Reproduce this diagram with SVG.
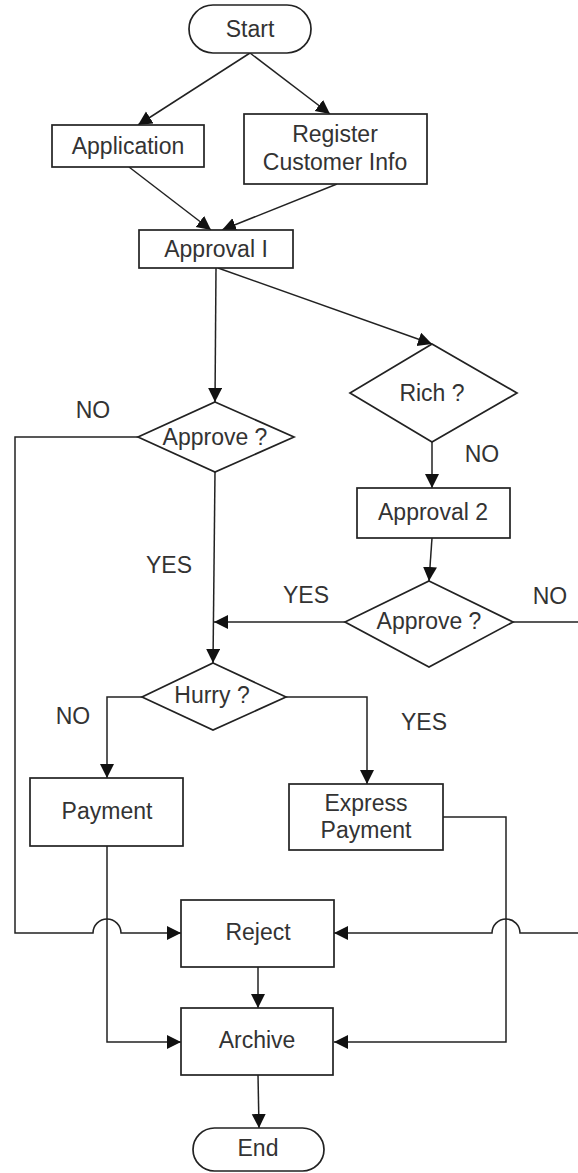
<svg xmlns="http://www.w3.org/2000/svg" width="578" height="1173" viewBox="0 0 578 1173">
<style>
.box{fill:#fff;stroke:#222;stroke-width:1.7}
.ln{fill:none;stroke:#222;stroke-width:1.5}
.arr{marker-end:url(#ah)}
text{font-family:"Liberation Sans",Arial,sans-serif;font-size:23px;fill:#333;text-anchor:middle}
</style>
<defs>
<marker id="ah" markerUnits="userSpaceOnUse" markerWidth="16" markerHeight="16" refX="14" refY="7" orient="auto">
<path d="M0,0 L14,7 L0,14 z" fill="#111"/>
</marker>
</defs>
<rect width="578" height="1173" fill="#fff"/>
<g id="connectors">
<path class="ln arr" d="M250,53 L138,125"/>
<path class="ln arr" d="M250,53 L330,114"/>
<path class="ln arr" d="M129,167 L211,230"/>
<path class="ln arr" d="M337,184 L222,230"/>
<path class="ln arr" d="M216,268 L215,402"/>
<path class="ln arr" d="M218,268 L432,344"/>
<path class="ln arr" d="M432,442 L432,488"/>
<path class="ln arr" d="M432,538 L429,581"/>
<path class="ln arr" d="M345,622 L214,622"/>
<path class="ln arr" d="M215,472 L213,663"/>
<path class="ln arr" d="M142,697 H107 V778"/>
<path class="ln arr" d="M286,697 H367 V784"/>
<path class="ln arr" d="M138,437 H15 V933 H93 A14,14 0 0 1 121,933 H181"/>
<path class="ln arr" d="M513,622 H584 V933 H520 A14,14 0 0 0 492,933 H334"/>
<path class="ln arr" d="M443,817 H506 V1042 H334"/>
<path class="ln arr" d="M107,846 V1042 H181"/>
<path class="ln arr" d="M258,967 L258,1008"/>
<path class="ln arr" d="M258,1075 L259,1128"/>
</g>
<g id="labels">
<text x="93" y="418">NO</text>
<text x="482" y="462">NO</text>
<text x="169" y="573">YES</text>
<text x="306" y="603">YES</text>
<text x="550" y="604">NO</text>
<text x="73" y="724">NO</text>
<text x="424" y="730">YES</text>
</g>
<g id="start"><rect class="box" x="189" y="5" width="122" height="48" rx="24"/><text x="250" y="37">Start</text></g>
<g id="application"><rect class="box" x="52" y="125" width="152" height="42"/><text x="128" y="154">Application</text></g>
<g id="register"><rect class="box" x="244" y="114" width="183" height="70"/><text x="335" y="142">Register</text><text x="335" y="170">Customer Info</text></g>
<g id="approval1"><rect class="box" x="139" y="230" width="154" height="38"/><text x="216" y="257">Approval I</text></g>
<g id="approve1"><polygon class="box" points="215,402 294,437 215,472 138,437"/><text x="215" y="445">Approve ?</text></g>
<g id="rich"><polygon class="box" points="432,344 517,393 432,442 350,393"/><text x="432" y="401">Rich ?</text></g>
<g id="approval2"><rect class="box" x="357" y="488" width="153" height="50"/><text x="433" y="520">Approval 2</text></g>
<g id="approve2"><polygon class="box" points="429,581 513,622 429,667 345,622"/><text x="429" y="629">Approve ?</text></g>
<g id="hurry"><polygon class="box" points="213,663 286,697 213,730 142,697"/><text x="212" y="703">Hurry ?</text></g>
<g id="payment"><rect class="box" x="30" y="778" width="153" height="68"/><text x="107" y="819">Payment</text></g>
<g id="express"><rect class="box" x="289" y="784" width="154" height="66"/><text x="366" y="811">Express</text><text x="366" y="838">Payment</text></g>
<g id="reject"><rect class="box" x="181" y="900" width="153" height="67"/><text x="258" y="940">Reject</text></g>
<g id="archive"><rect class="box" x="181" y="1008" width="152" height="67"/><text x="257" y="1048">Archive</text></g>
<g id="end"><rect class="box" x="193" y="1128" width="131" height="43" rx="21.5"/><text x="258" y="1156">End</text></g>
</svg>
